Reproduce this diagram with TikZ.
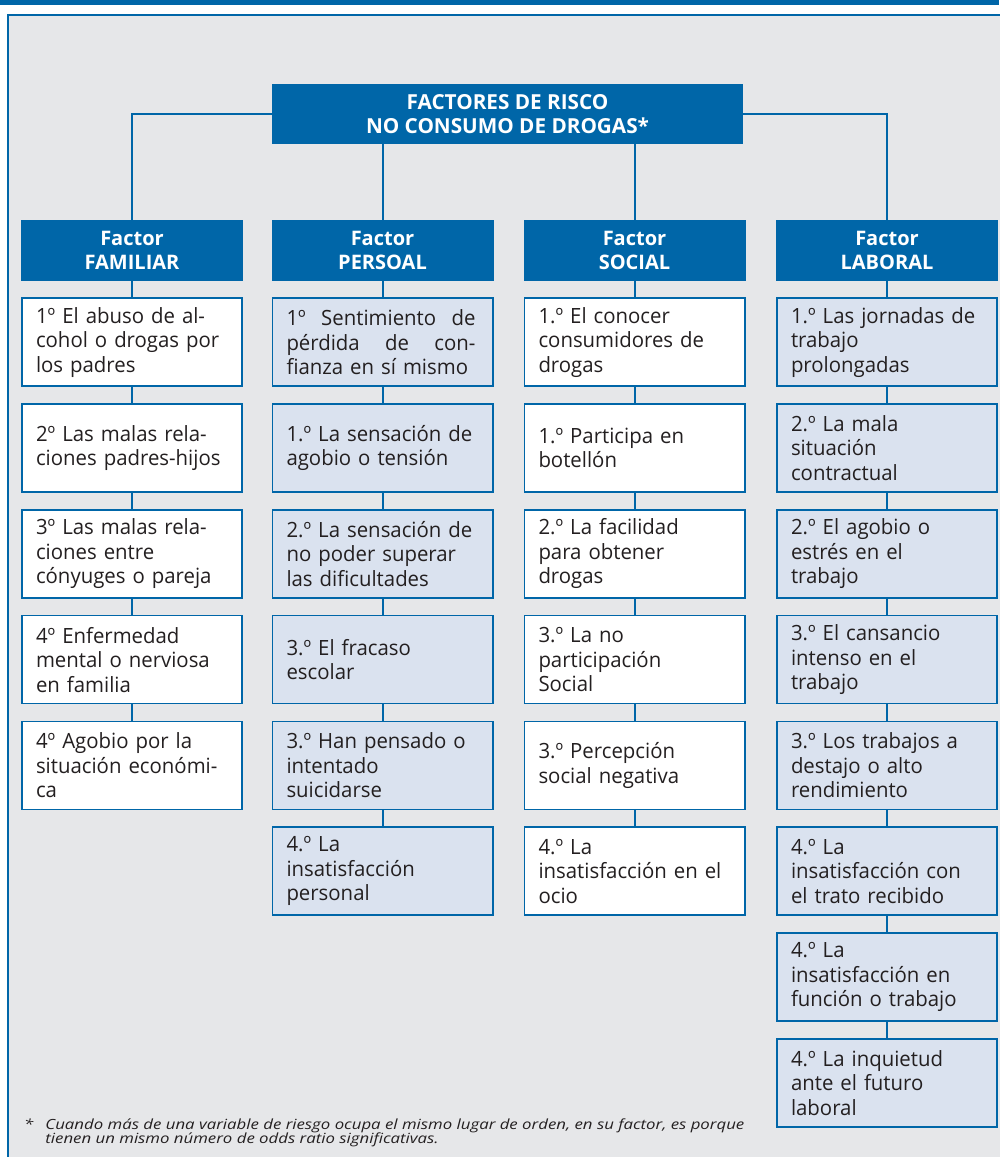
\documentclass[tikz,border=0pt]{standalone}
\usepackage{fontspec}
\setmainfont{Open Sans}
\newfontfamily\boxfont[FakeStretch=0.97]{Open Sans}
\newfontfamily\footfont[FakeStretch=1.2]{Open Sans}
\definecolor{myblue}{HTML}{0066A8}
\definecolor{lightfill}{HTML}{DAE2EF}
\definecolor{panelgrey}{HTML}{E6E7E9}
\definecolor{txt}{HTML}{231F20}
\tikzset{
  rootbox/.style={fill=myblue, text=white, font=\bfseries\fontsize{20.7}{24}\selectfont, minimum width=471pt, minimum height=60pt, align=center, inner sep=0pt},
  colhead/.style={fill=myblue, text=white, font=\bfseries\fontsize{20}{24}\selectfont, minimum width=222pt, minimum height=61pt, align=center, inner sep=0pt},
  itembox/.style={draw=myblue, line width=1.6pt, fill=white, text=txt, font=\boxfont\fontsize{21}{24.5}\selectfont, text width=192pt, inner xsep=14.2pt, inner ysep=0pt, minimum height=88pt, align=left},
  bluebox/.style={itembox, fill=lightfill},
  conn/.style={draw=myblue, line width=2pt}
}
\begin{document}
\begin{tikzpicture}[x=1pt,y=-1pt]
\useasboundingbox (0,0) rectangle (999,1157);
% top bar and panel
\fill[myblue] (0,0) rectangle (999,5);
\fill[panelgrey] (8,15) rectangle (1000,1158);
\draw[myblue, line width=2pt] (8,1158) -- (8,15) -- (1000,15);
% root
\node[rootbox] (root) at (507.5,114) {FACTORES DE RISCO\\NO CONSUMO DE DROGAS*};
% column headers
\node[colhead] (h1) at (132,250.5) {Factor\\FAMILIAR};
\node[colhead] (h2) at (382.5,250.5) {Factor\\PERSOAL};
\node[colhead] (h3) at (634.5,250.5) {Factor\\SOCIAL};
\node[colhead] (h4) at (887,250.5) {Factor\\LABORAL};
% familiar
\node[itembox] (a1) at (132,342.25) {1º El abuso de al-\\cohol o drogas por\\los padres};
\node[itembox] (a2) at (132,448.05) {2º Las malas rela-\\ciones padres-hijos};
\node[itembox] (a3) at (132,553.85) {3º Las malas rela-\\ciones entre\\cónyuges o pareja};
\node[itembox] (a4) at (132,659.65) {4º Enfermedad\\mental o nerviosa\\en familia};
\node[itembox] (a5) at (132,765.45) {4º Agobio por la\\situación económi-\\ca};
% personal
\node[bluebox] (b1) at (382.5,342.25) {\makebox[189pt][s]{1º\hfill Sentimiento\hfill de}\\\makebox[189pt][s]{pérdida\hfill de\hfill con-}\\fianza en sí mismo};
\node[bluebox] (b2) at (382.5,448.05) {1.º La sensación de\\agobio o tensión};
\node[bluebox] (b3) at (382.5,553.85) {2.º La sensación de\\no poder superar\\las dificultades};
\node[bluebox] (b4) at (382.5,659.65) {3.º El fracaso\\escolar};
\node[bluebox] (b5) at (382.5,765.45) {3.º Han pensado o\\intentado\\suicidarse};
\node[bluebox] (b6) at (382.5,871.25) {4.º La\\insatisfacción\\personal};
% social
\node[itembox] (c1) at (634.5,342.25) {1.º El conocer\\consumidores de\\drogas};
\node[itembox] (c2) at (634.5,448.05) {1.º Participa en\\botellón};
\node[itembox] (c3) at (634.5,553.85) {2.º La facilidad\\para obtener\\drogas};
\node[itembox] (c4) at (634.5,659.65) {3.º La no\\participación\\Social};
\node[itembox] (c5) at (634.5,765.45) {3.º Percepción\\social negativa};
\node[itembox] (c6) at (634.5,871.25) {4.º La\\insatisfacción en el\\ocio};
% laboral
\node[bluebox] (d1) at (887,342.25) {1.º Las jornadas de\\trabajo\\prolongadas};
\node[bluebox] (d2) at (887,448.05) {2.º La mala\\situación\\contractual};
\node[bluebox] (d3) at (887,553.85) {2.º El agobio o\\estrés en el\\trabajo};
\node[bluebox] (d4) at (887,659.65) {3.º El cansancio\\intenso en el\\trabajo};
\node[bluebox] (d5) at (887,765.45) {3.º Los trabajos a\\destajo o alto\\rendimiento};
\node[bluebox] (d6) at (887,871.25) {4.º La\\insatisfacción con\\el trato recibido};
\node[bluebox] (d7) at (887,977.05) {4.º La\\insatisfacción en\\función o trabajo};
\node[bluebox] (d8) at (887,1082.85) {4.º La inquietud\\ante el futuro\\laboral};
% connectors from root
\draw[conn] (root.west) -| (h1.north);
\draw[conn] (root.east) -| (h4.north);
\draw[conn] (root.south -| h2.north) -- (h2.north);
\draw[conn] (root.south -| h3.north) -- (h3.north);
% column connectors
\draw[conn] (h1.south) -- (a1.north);
\draw[conn] (a1.south) -- (a2.north);
\draw[conn] (a2.south) -- (a3.north);
\draw[conn] (a3.south) -- (a4.north);
\draw[conn] (a4.south) -- (a5.north);
\draw[conn] (h2.south) -- (b1.north);
\draw[conn] (b1.south) -- (b2.north);
\draw[conn] (b2.south) -- (b3.north);
\draw[conn] (b3.south) -- (b4.north);
\draw[conn] (b4.south) -- (b5.north);
\draw[conn] (b5.south) -- (b6.north);
\draw[conn] (h3.south) -- (c1.north);
\draw[conn] (c1.south) -- (c2.north);
\draw[conn] (c2.south) -- (c3.north);
\draw[conn] (c3.south) -- (c4.north);
\draw[conn] (c4.south) -- (c5.north);
\draw[conn] (c5.south) -- (c6.north);
\draw[conn] (h4.south) -- (d1.north);
\draw[conn] (d1.south) -- (d2.north);
\draw[conn] (d2.south) -- (d3.north);
\draw[conn] (d3.south) -- (d4.north);
\draw[conn] (d4.south) -- (d5.north);
\draw[conn] (d5.south) -- (d6.north);
\draw[conn] (d6.south) -- (d7.north);
\draw[conn] (d7.south) -- (d8.north);
% footnote
\node[anchor=base west, inner sep=0pt, text=txt, font=\footfont\itshape\fontsize{14}{12.5}\selectfont, align=left] (fn) at (24,1129) {\begin{tabular}[t]{@{}l@{\hspace{12pt}}l@{}}*&Cuando más de una variable de riesgo ocupa el mismo lugar de orden, en su factor, es porque\\&tienen un mismo número de odds ratio significativas.\end{tabular}};
\end{tikzpicture}
\end{document}
